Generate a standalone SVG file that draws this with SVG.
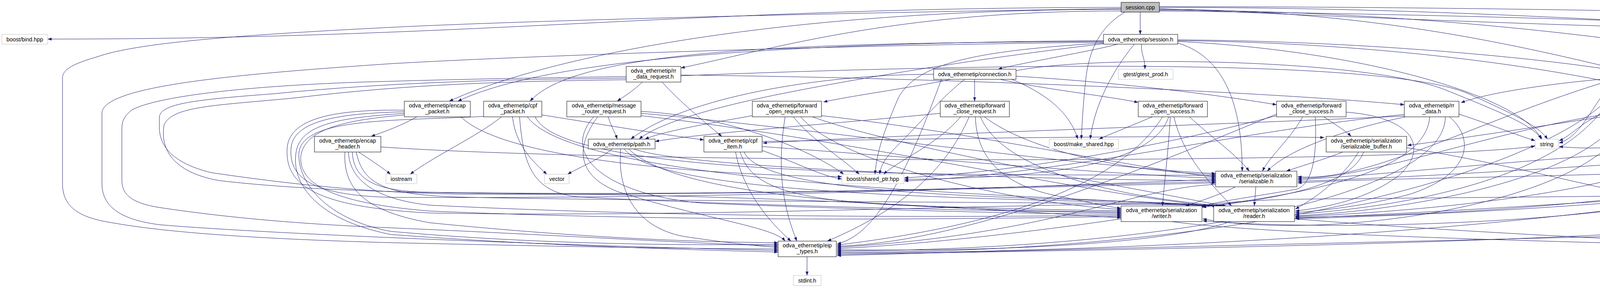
<svg xmlns="http://www.w3.org/2000/svg" width="5983" height="737" viewBox="0 0 5983 737">
<defs>
<marker id="a" markerWidth="10" markerHeight="8" refX="10" refY="4" orient="auto" markerUnits="userSpaceOnUse"><path d="M0,0.3 L10,4 L0,7.7 z" fill="#191970"/></marker>
</defs>
<style>
.e path{fill:none;stroke:#191970;stroke-width:1;marker-end:url(#a)}
.n rect{fill:#fff;stroke:#000;stroke-width:1}
.x rect{fill:#fff;stroke:#bfbfbf;stroke-width:1}
.r rect{fill:#bfbfbf;stroke:#000;stroke-width:1}
text{font-family:"Liberation Sans",Arial,sans-serif;font-size:14.3px;text-anchor:middle;fill:#000}
</style>
<rect width="5983" height="737" fill="#fff"/>
<g class="e" id="edges">
<path d="M2870,19 C1771,19 1221,100 122,100"/>
<path d="M2919,31 L2919,88"/>
<path d="M2880,31 C2830,60 2790,110 2780,200 C2773,260 2770,320 2768,356"/>
<path d="M2968,19 C4024,19 4551,100 5607,100"/>
<path d="M2968,17 C4200,17 5400,55 5813,83"/>
<path d="M2870,22 C2000,35 1300,55 1000,70 C600,90 350,110 250,145 C180,165 160,180 160,200 L160,470 C160,540 220,560 293,571 C400,590 600,610 1000,621 C1400,630 1700,636 1992,637"/>
<path d="M2870,24 C2010,24 1408,141 1150,259"/>
<path d="M2870,28 C2300,28 2000,120 1743,174"/>
<path d="M2968,24 C3500,24 3900,120 4132,175"/>
<path d="M2968,26 C3800,26 4600,150 4984,262"/>
<path d="M2968,28 C4000,40 4700,70 5000,100 C5300,130 5417,160 5417,200 L5417,330 C5417,380 5300,420 5062,454"/>
<path d="M2968,22 C3800,60 4700,90 5000,80 C5200,60 5400,35 5470,42 C5540,50 5568,100 5568,150 L5568,290 C5568,360 5500,400 5412,436"/>
<path d="M2922,113 C2922,145 2931,145 2931,177"/>
<path d="M2861,113 C2800,130 2620,160 2555,177"/>
<path d="M2904,113 C2840,190 2800,280 2791,356"/>
<path d="M2825,110 C2500,130 2350,160 2300,250 C2270,320 2245,380 2240,446"/>
<path d="M3015,106 C3500,130 3900,250 3945,356"/>
<path d="M3015,104 C3600,110 4100,190 4330,262"/>
<path d="M3015,102 C3500,105 3950,150 4132,180"/>
<path d="M2825,104 C2000,110 1400,150 1172,259"/>
<path d="M2825,106 C2100,110 1480,120 1357,259"/>
<path d="M2825,108 C2200,115 1400,140 1000,163 C600,190 261,220 261,290 L261,470 C261,540 330,565 408,575 C700,600 1500,630 1992,641"/>
<path d="M2825,112 C2500,150 2200,200 2000,240 C1800,280 1680,320 1636,356"/>
<path d="M3015,110 C3150,150 3180,300 3180,438"/>
<path d="M2495,203 L2495,259"/>
<path d="M2434,203 C2330,225 2180,245 2108,261"/>
<path d="M2561,203 C2650,225 2830,245 2914,262"/>
<path d="M2601,195 C2850,210 3100,240 3268,268"/>
<path d="M2470,203 C2420,240 2350,320 2300,370 C2270,400 2255,420 2252,446"/>
<path d="M2590,203 C2680,240 2740,290 2759,356"/>
<path d="M2601,181 C2800,140 3500,150 3700,230 C3850,290 3920,320 3948,356"/>
<path d="M2410,203 C2330,420 2250,600 2143,624"/>
<path d="M2390,190 C2100,190 1750,250 1615,356"/>
<path d="M1644,210 C1625,230 1600,245 1580,259"/>
<path d="M1695,210 C1740,260 1800,310 1848,349"/>
<path d="M1743,192 C2500,200 3300,240 3595,268"/>
<path d="M1743,194 C2600,160 3550,150 3760,240 C3880,295 3935,320 3962,356"/>
<path d="M1603,196 C1300,200 1100,205 1000,208 C700,215 420,240 340,280 C318,295 312,310 312,330 L312,461 C312,500 340,520 408,531 C600,560 800,575 1000,583 C1400,600 1800,625 1992,629"/>
<path d="M1603,200 C1300,203 1000,210 700,240 C500,255 410,265 408,300 L408,329 C410,380 450,420 542,442 C800,480 1000,495 1200,497 C2000,500 2800,475 3112,468"/>
<path d="M1603,204 C1300,208 1050,215 760,250 C560,270 440,270 420,320 C410,380 440,440 560,462 C800,490 1100,494 1400,496 C2200,505 2700,550 2870,557"/>
<path d="M1067,299 C1030,320 990,335 950,349"/>
<path d="M1035,290 C900,300 780,310 760,380 C740,460 800,560 1000,600 C1400,630 1800,640 1992,645"/>
<path d="M1035,294 C920,305 780,320 770,400 C765,470 850,520 1100,540 C1800,570 2500,560 2870,554"/>
<path d="M1035,282 C880,280 740,295 735,380 C730,470 800,530 1100,545 C1900,560 2900,505 3130,528"/>
<path d="M1035,286 C900,290 750,300 745,380 C740,450 790,500 1000,505 C2000,510 2800,470 3112,459"/>
<path d="M1180,299 C1300,420 1900,450 2155,452"/>
<path d="M918,389 C950,410 980,430 1000,446"/>
<path d="M883,389 C878,480 930,540 1100,570 C1500,610 1800,620 1992,621"/>
<path d="M892,389 C895,460 960,510 1100,525 C1800,560 2500,555 2870,551"/>
<path d="M902,389 C905,460 960,490 1100,492 C2000,505 2800,470 3112,465"/>
<path d="M912,389 C930,480 1000,500 1200,505 C2000,520 2900,515 3126,528"/>
<path d="M975,376 C1600,420 3600,420 3930,374"/>
<path d="M1284,299 C1220,350 1110,400 1050,446"/>
<path d="M1312,299 C1320,370 1360,410 1400,446"/>
<path d="M1387,294 C1550,320 1700,345 1802,358"/>
<path d="M1238,298 C1000,310 760,300 765,400 C768,480 850,565 1000,592 C1400,628 1800,628 1992,625"/>
<path d="M1330,299 C1340,420 1360,500 1500,505 C2000,530 2600,540 2870,545"/>
<path d="M1370,299 C1450,480 2800,440 3112,450"/>
<path d="M1350,299 C1480,480 2700,500 3118,528"/>
<path d="M1557,299 C1563,320 1575,340 1580,356"/>
<path d="M1530,299 C1470,380 1480,450 1580,490 C1800,560 1980,580 2010,617"/>
<path d="M1520,299 C1430,400 1560,500 1800,520 C2300,540 2700,548 2870,548"/>
<path d="M1641,290 C2000,320 2800,430 3112,444"/>
<path d="M1641,296 C2200,360 2800,500 3114,528"/>
<path d="M1641,285 C1900,300 2100,400 2160,446"/>
<path d="M1568,381 C1530,410 1480,430 1453,446"/>
<path d="M1589,381 C1580,480 1620,580 1750,605 C1850,620 1940,630 1992,633"/>
<path d="M1622,381 C1750,430 2600,460 3112,462"/>
<path d="M1609,381 C1700,470 2000,510 2400,530 C2600,540 2800,542 2870,542"/>
<path d="M1598,381 C1700,520 2800,505 3122,528"/>
<path d="M1883,389 C1900,480 1960,560 2025,617"/>
<path d="M1895,389 C1920,470 2000,510 2300,525 C2600,535 2800,539 2870,539"/>
<path d="M1905,389 C1960,520 2800,500 3134,528"/>
<path d="M1951,375 C2300,400 2900,450 3112,456"/>
<path d="M1951,362 C2400,355 3000,345 3390,352"/>
<path d="M1951,385 C2050,420 2100,450 2155,458"/>
<path d="M1926,296 C1820,315 1700,335 1651,356"/>
<path d="M2010,299 C1990,420 2000,520 2040,617"/>
<path d="M2031,299 C2080,360 2150,400 2200,446"/>
<path d="M2103,296 C2500,340 2900,430 3112,453"/>
<path d="M2050,299 C2150,420 2600,520 2870,536"/>
<path d="M2080,299 C2300,380 2900,480 3138,528"/>
<path d="M2407,290 C2100,320 1800,340 1677,362"/>
<path d="M2459,299 C2400,370 2300,410 2262,446"/>
<path d="M2481,299 C2420,440 2300,540 2118,617"/>
<path d="M2497,299 C2500,400 2560,470 2700,500 C2800,520 2840,530 2870,533"/>
<path d="M2510,299 C2560,420 2800,500 3142,528"/>
<path d="M2520,299 C2640,390 2900,440 3112,447"/>
<path d="M2950,299 C2900,320 2850,340 2813,356"/>
<path d="M2976,299 C2900,420 2700,560 2143,627"/>
<path d="M2992,299 C2950,420 2700,455 2315,459"/>
<path d="M2996,299 C2990,400 2980,470 2976,527"/>
<path d="M3005,299 C3030,400 3090,460 3153,527"/>
<path d="M3045,299 C3100,350 3170,400 3198,438"/>
<path d="M3389,299 C3420,320 3445,335 3459,349"/>
<path d="M3335,299 C3300,360 3250,400 3232,438"/>
<path d="M3367,299 C3372,400 3360,470 3320,484 C3200,505 3120,515 3075,528"/>
<path d="M3446,287 C3620,300 3660,380 3580,450 C3500,510 3400,530 3316,540"/>
<path d="M3268,292 C3000,400 2500,620 2143,630"/>
<path d="M3268,296 C2950,380 2600,440 2315,455"/>
<path d="M3735,292 C3820,320 3880,345 3930,360"/>
<path d="M3595,297 C3100,320 2300,345 1953,366"/>
<path d="M3595,293 C3200,330 2700,450 2315,463"/>
<path d="M3598,299 C3450,330 3300,380 3244,438"/>
<path d="M3660,299 C3650,450 3300,500 3076,530"/>
<path d="M3711,299 C3780,360 3760,450 3606,498 C3500,525 3400,538 3316,544"/>
<path d="M3700,299 C3700,500 3000,640 2143,642"/>
<path d="M4204,210 L4205,259"/>
<path d="M4132,200 C3950,215 3800,240 3740,263"/>
<path d="M4272,198 C4450,210 4540,250 4530,300 C4520,330 4480,340 4446,349"/>
<path d="M4132,207 C4080,260 4050,350 3991,366"/>
<path d="M4150,210 C4050,400 3300,650 2143,645"/>
<path d="M4132,203 C3800,300 3500,470 3322,452"/>
<path d="M4140,210 C4060,450 3600,530 3316,548"/>
<path d="M4304,296 C4420,320 4520,345 4601,358"/>
<path d="M4114,285 C4050,310 4020,350 3991,360"/>
<path d="M4114,292 C3800,340 3500,460 3322,456"/>
<path d="M4114,297 C3900,330 3700,360 3603,372"/>
<path d="M4150,299 C4050,460 3600,540 3316,552"/>
<path d="M4170,299 C4100,520 3400,620 3079,560"/>
<path d="M4480,299 C4600,500 4800,620 4914,632"/>
<path d="M4364,299 C4280,360 4150,390 3991,375"/>
<path d="M5085,299 C5105,420 5090,540 5010,624"/>
<path d="M5060,299 C4950,470 3800,440 3322,468"/>
<path d="M5075,299 C5000,480 4000,540 3316,560"/>
<path d="M5065,299 C4900,500 3500,640 2143,648"/>
<path d="M3437,389 C3400,405 3330,425 3293,438"/>
<path d="M3478,389 C3440,450 3380,500 3316,535"/>
<path d="M3491,389 C3460,470 3300,505 3078,530"/>
<path d="M3601,378 C4000,440 4600,620 4914,628"/>
<path d="M4267,385 C3900,410 3500,450 3322,460"/>
<path d="M4300,389 C4200,480 3700,540 3316,554"/>
<path d="M4450,389 C4550,520 4800,615 4914,625"/>
<path d="M4601,385 C4200,420 3600,455 3322,464"/>
<path d="M4640,389 C4500,500 3800,550 3316,556"/>
<path d="M4680,389 C4500,560 3500,600 3079,565"/>
<path d="M3163,478 C3120,500 3070,515 3035,527"/>
<path d="M3215,478 L3211,527"/>
<path d="M3112,472 C2900,480 2700,600 2143,633"/>
<path d="M4854,470 C4300,500 3700,545 3316,558"/>
<path d="M4959,478 C4962,530 4968,580 4971,624"/>
<path d="M4980,478 C5020,530 5070,580 5095,624"/>
<path d="M4937,478 C4850,580 4200,620 2143,651"/>
<path d="M5237,475 C4900,500 3700,505 3300,510 C3200,513 3120,518 3077,528"/>
<path d="M5334,478 C5300,560 5150,600 5025,624"/>
<path d="M5346,478 C5350,560 5300,630 5151,637"/>
<path d="M5321,478 C5250,560 5100,575 4900,585 C4000,610 3000,630 2143,654"/>
<path d="M3000,567 C3300,610 4500,630 4914,640"/>
<path d="M2870,560 C2600,600 2300,630 2143,636"/>
<path d="M3314,560 C3800,600 4500,630 4914,644"/>
<path d="M3150,567 C3000,620 2600,645 2143,639"/>
<path d="M2066,657 L2066,705"/>
</g>
<g id="session_cpp" class="r"><rect x="2870" y="6" width="98" height="25"/><text x="2919" y="23.5">session.cpp</text></g>
<g id="boost_bind" class="x"><rect x="5" y="88" width="117" height="25"/><text x="63.5" y="105.5">boost/bind.hpp</text></g>
<g id="session_h" class="n"><rect x="2825" y="88" width="190" height="25"/><text x="2920" y="105.5">odva_ethernetip/session.h</text></g>
<g id="mersenne" class="x"><rect x="5607" y="81" width="181" height="39"/><text x="5697.5" y="97">boost/random/mersenne</text><text x="5697.5" y="112">_twister.hpp</text></g>
<g id="uniform" class="x"><rect x="5811" y="81" width="166" height="39"/><text x="5894" y="97">boost/random/uniform</text><text x="5894" y="112">_int_distribution.hpp</text></g>
<g id="rr_data_request" class="n"><rect x="1603" y="170" width="140" height="40"/><text x="1673" y="186">odva_ethernetip/rr</text><text x="1673" y="201">_data_request.h</text></g>
<g id="connection" class="n"><rect x="2390" y="177" width="211" height="26"/><text x="2495.5" y="195">odva_ethernetip/connection.h</text></g>
<g id="gtest_prod" class="x"><rect x="2863" y="177" width="140" height="26"/><text x="2933" y="195">gtest/gtest_prod.h</text></g>
<g id="rr_data_response" class="n"><rect x="4132" y="170" width="140" height="40"/><text x="4202" y="186">odva_ethernetip/rr</text><text x="4202" y="201">_data_response.h</text></g>
<g id="encap_packet" class="n"><rect x="1035" y="259" width="169" height="40"/><text x="1119.5" y="275">odva_ethernetip/encap</text><text x="1119.5" y="290">_packet.h</text></g>
<g id="cpf_packet" class="n"><rect x="1238" y="259" width="149" height="40"/><text x="1312.5" y="275">odva_ethernetip/cpf</text><text x="1312.5" y="290">_packet.h</text></g>
<g id="message_router_request" class="n"><rect x="1451" y="259" width="190" height="40"/><text x="1546" y="275">odva_ethernetip/message</text><text x="1546" y="290">_router_request.h</text></g>
<g id="forward_open_request" class="n"><rect x="1926" y="259" width="177" height="40"/><text x="2014.5" y="275">odva_ethernetip/forward</text><text x="2014.5" y="290">_open_request.h</text></g>
<g id="forward_close_request" class="n"><rect x="2407" y="259" width="177" height="40"/><text x="2495.5" y="275">odva_ethernetip/forward</text><text x="2495.5" y="290">_close_request.h</text></g>
<g id="forward_open_success" class="n"><rect x="2914" y="259" width="177" height="40"/><text x="3002.5" y="275">odva_ethernetip/forward</text><text x="3002.5" y="290">_open_success.h</text></g>
<g id="forward_close_success" class="n"><rect x="3268" y="259" width="178" height="40"/><text x="3357" y="275">odva_ethernetip/forward</text><text x="3357" y="290">_close_success.h</text></g>
<g id="rr_data" class="n"><rect x="3595" y="259" width="140" height="40"/><text x="3665" y="275">odva_ethernetip/rr</text><text x="3665" y="290">_data.h</text></g>
<g id="message_router_response" class="n"><rect x="4114" y="259" width="190" height="40"/><text x="4209" y="275">odva_ethernetip/message</text><text x="4209" y="290">_router_response.h</text></g>
<g id="socket" class="n"><rect x="4328" y="259" width="173" height="40"/><text x="4414.5" y="275">odva_ethernetip/socket</text><text x="4414.5" y="290">/socket.h</text></g>
<g id="register_session_data" class="n"><rect x="4984" y="259" width="179" height="40"/><text x="5073.5" y="275">odva_ethernetip/register</text><text x="5073.5" y="290">_session_data.h</text></g>
<g id="encap_header" class="n"><rect x="805" y="349" width="170" height="40"/><text x="890" y="365">odva_ethernetip/encap</text><text x="890" y="380">_header.h</text></g>
<g id="path" class="n"><rect x="1506" y="356" width="171" height="25"/><text x="1591.5" y="373.5">odva_ethernetip/path.h</text></g>
<g id="cpf_item" class="n"><rect x="1802" y="349" width="149" height="40"/><text x="1876.5" y="365">odva_ethernetip/cpf</text><text x="1876.5" y="380">_item.h</text></g>
<g id="make_shared" class="x"><rect x="2686" y="356" width="177" height="25"/><text x="2774.5" y="373.5">boost/make_shared.hpp</text></g>
<g id="serializable_buffer" class="n"><rect x="3395" y="349" width="206" height="40"/><text x="3498" y="365">odva_ethernetip/serialization</text><text x="3498" y="380">/serializable_buffer.h</text></g>
<g id="string" class="x"><rect x="3930" y="356" width="59" height="25"/><text x="3959.5" y="373.5">string</text></g>
<g id="copy_serializable" class="n"><rect x="4267" y="349" width="207" height="40"/><text x="4370.5" y="365">odva_ethernetip/serialization</text><text x="4370.5" y="380">/copy_serializable.h</text></g>
<g id="serializable_primitive" class="n"><rect x="4601" y="349" width="206" height="40"/><text x="4704" y="365">odva_ethernetip/serialization</text><text x="4704" y="380">/serializable_primitive.h</text></g>
<g id="iostream" class="x"><rect x="988" y="446" width="79" height="24"/><text x="1027.5" y="463">iostream</text></g>
<g id="vector" class="x"><rect x="1394" y="446" width="63" height="24"/><text x="1425.5" y="463">vector</text></g>
<g id="shared_ptr" class="x"><rect x="2155" y="446" width="159" height="24"/><text x="2234.5" y="463">boost/shared_ptr.hpp</text></g>
<g id="serializable" class="n"><rect x="3112" y="438" width="208" height="40"/><text x="3216" y="454">odva_ethernetip/serialization</text><text x="3216" y="469">/serializable.h</text></g>
<g id="buffer_reader" class="n"><rect x="4854" y="438" width="206" height="40"/><text x="4957" y="454">odva_ethernetip/serialization</text><text x="4957" y="469">/buffer_reader.h</text></g>
<g id="buffer_writer" class="n"><rect x="5237" y="438" width="208" height="40"/><text x="5341" y="454">odva_ethernetip/serialization</text><text x="5341" y="469">/buffer_writer.h</text></g>
<g id="writer" class="n"><rect x="2870" y="527" width="207" height="40"/><text x="2973.5" y="543">odva_ethernetip/serialization</text><text x="2973.5" y="558">/writer.h</text></g>
<g id="reader" class="n"><rect x="3107" y="527" width="207" height="40"/><text x="3210.5" y="543">odva_ethernetip/serialization</text><text x="3210.5" y="558">/reader.h</text></g>
<g id="eip_types" class="n"><rect x="1992" y="617" width="149" height="40"/><text x="2066.5" y="633">odva_ethernetip/eip</text><text x="2066.5" y="648">_types.h</text></g>
<g id="boost_asio" class="x"><rect x="4916" y="624" width="116" height="25"/><text x="4974" y="641.5">boost/asio.hpp</text></g>
<g id="stdexcept" class="x"><rect x="5063" y="624" width="86" height="25"/><text x="5106" y="641.5">stdexcept</text></g>
<g id="stdint" class="x"><rect x="2031" y="705" width="71" height="26"/><text x="2066.5" y="722.5">stdint.h</text></g>
</svg>
